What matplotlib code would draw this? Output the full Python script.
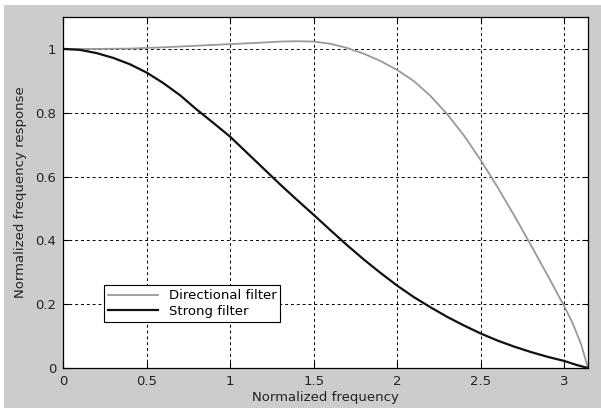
import numpy as np
import matplotlib
matplotlib.use("Agg")
import matplotlib.pyplot as plt
from matplotlib.patches import Rectangle

plt.rcParams['font.family'] = ['DejaVu Sans']

# values
dir_x = [0, 0.2, 0.4, 0.6, 0.8, 1.0, 1.2, 1.3, 1.4, 1.5, 1.6, 1.7, 1.8, 1.9,
         2.0, 2.1, 2.2, 2.3, 2.4, 2.5, 2.6, 2.7, 2.8, 2.9, 3.0, 3.05, 3.1, np.pi]
dir_y = [1.0, 1.0, 1.001, 1.005, 1.01, 1.015, 1.02, 1.023, 1.024, 1.023, 1.016,
         1.003, 0.985, 0.962, 0.934, 0.899, 0.852, 0.795, 0.728, 0.651, 0.567,
         0.478, 0.385, 0.29, 0.193, 0.14, 0.075, 0.0]

strong_x = [0, 0.1, 0.2, 0.3, 0.4, 0.5, 0.6, 0.7, 0.8, 0.9, 1.0, 1.1, 1.2, 1.3,
            1.4, 1.5, 1.6, 1.7, 1.8, 1.9, 2.0, 2.1, 2.2, 2.3, 2.4, 2.5, 2.6, 2.7,
            2.8, 2.9, 3.0, 3.07, np.pi]
strong_y = [1.0, 0.997, 0.987, 0.972, 0.952, 0.926, 0.893, 0.855, 0.81, 0.768,
            0.725, 0.675, 0.625, 0.575, 0.527, 0.48, 0.432, 0.385, 0.34, 0.298,
            0.258, 0.222, 0.19, 0.16, 0.133, 0.108, 0.086, 0.067, 0.05, 0.035,
            0.022, 0.01, 0.0]

xticks = [0, 0.5, 1, 1.5, 2, 2.5, 3]
xtick_labels = ['0', '0.5', '1', '1.5', '2', '2.5', '3']
yticks = [0, 0.2, 0.4, 0.6, 0.8, 1.0]
ytick_labels = ['0', '0.2', '0.4', '0.6', '0.8', '1']

fig = plt.figure(figsize=(6.01, 4.08), dpi=100, facecolor='#cccccc')
# thin white strips along the top and left edge
fig.add_artist(Rectangle((0, (408 - 5) / 408), 1, 5 / 408,
                         transform=fig.transFigure, facecolor='white',
                         edgecolor='none', zorder=-10))
fig.add_artist(Rectangle((0, 0), 4 / 601, 1,
                         transform=fig.transFigure, facecolor='white',
                         edgecolor='none', zorder=-10))

ax = fig.add_axes([63 / 601, 40 / 408, 525 / 601, 351 / 408])
ax.plot(dir_x, dir_y, color='#999999', lw=1.3, label='Directional filter')
ax.plot(strong_x, strong_y, color='#111111', lw=1.6, label='Strong filter')

ax.set_xlim(0, np.pi)
ax.set_ylim(0, 1.1)
ax.set_xticks(xticks)
ax.set_xticklabels(xtick_labels)
ax.set_yticks(yticks)
ax.set_yticklabels(ytick_labels)
ax.tick_params(direction='in', length=4, width=0.8, top=True, right=True,
               labelsize=9.5, labelcolor='#222222', pad=5)
ax.grid(True, color='black', linestyle=(0, (3, 3)), lw=0.7)
for s in ax.spines.values():
    s.set_linewidth(0.9)

ax.set_xlabel('Normalized frequency', fontsize=9.5, color='#222222', labelpad=2)
ax.set_ylabel('Normalized frequency response', fontsize=9.5, color='#222222',
              labelpad=6)

leg = ax.legend(loc='lower left', bbox_to_anchor=(0.078, 0.131), fontsize=9.5,
                fancybox=False, framealpha=1, edgecolor='black',
                handlelength=3.8, borderaxespad=0, borderpad=0.3,
                labelspacing=0.2)
leg.get_frame().set_linewidth(0.8)

fig.savefig('out.png', dpi=100, facecolor=fig.get_facecolor())
